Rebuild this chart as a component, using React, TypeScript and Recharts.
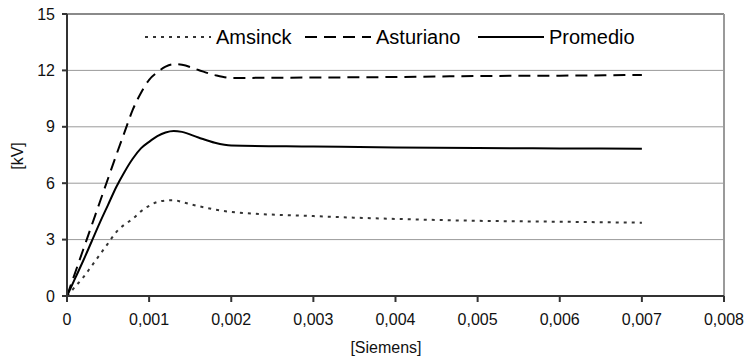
import { LineChart, Line, XAxis, YAxis, CartesianGrid, ReferenceLine } from 'recharts'

// conductancia [S]
const siemens = [
  0, 0.0001, 0.0002, 0.0003, 0.0004, 0.0005, 0.0006, 0.0007, 0.0008, 0.0009, 0.001, 0.0011, 0.0012, 0.0013,
  0.0014, 0.0016, 0.0018, 0.002, 0.003, 0.004, 0.005, 0.006, 0.007,
]
const amsinck = [
  0, 0.5, 1.0, 1.6, 2.2, 2.8, 3.4, 3.8, 4.1, 4.5, 4.8, 5.0, 5.08, 5.1, 5.0, 4.78, 4.6, 4.47, 4.25, 4.1, 4.0, 3.95, 3.9,
]
const asturiano = [
  0, 1.25, 2.5, 3.75, 5.0, 6.25, 7.5, 8.7, 9.9, 10.8, 11.5, 11.9, 12.2, 12.33, 12.3, 12.02, 11.75, 11.6, 11.62, 11.65,
  11.7, 11.72, 11.76,
]
const promedio = [
  0, 0.95, 1.9, 2.9, 3.9, 4.85, 5.8, 6.6, 7.3, 7.85, 8.2, 8.5, 8.7, 8.78, 8.73, 8.43, 8.15, 8.0, 7.95, 7.9, 7.87, 7.85,
  7.83,
]

const xTicks = [0, 0.001, 0.002, 0.003, 0.004, 0.005, 0.006, 0.007, 0.008]
const yTicks = [0, 3, 6, 9, 12, 15]

const data = siemens.map((s, i) => ({
  s,
  amsinck: amsinck[i],
  asturiano: asturiano[i],
  promedio: promedio[i],
}))

const FONT = '"Liberation Sans", Arial, sans-serif'

const series = [
  { key: 'amsinck', name: 'Amsinck', color: '#333', dash: '3 5', width: 160 },
  { key: 'asturiano', name: 'Asturiano', color: '#000', dash: '12 7', width: 173 },
  { key: 'promedio', name: 'Promedio', color: '#000', dash: undefined, width: 170 },
]

const fmtX = (v: number) => (v === 0 ? '0' : v.toFixed(3).replace('.', ','))

// leyenda dentro del área del gráfico, arriba
function ChartLegend() {
  return (
    <div
      style={{
        position: 'absolute',
        left: 145,
        top: 26,
        display: 'flex',
        alignItems: 'center',
        fontFamily: FONT,
        fontSize: 20,
        color: '#000',
        lineHeight: '22px',
      }}
    >
      {series.map((s) => (
        <div key={s.key} style={{ width: s.width, display: 'flex', alignItems: 'center' }}>
          <svg width={66} height={10} style={{ marginRight: 5 }}>
            <line x1={0} y1={5} x2={66} y2={5} stroke={s.color} strokeWidth={2} strokeDasharray={s.dash} />
          </svg>
          <span>{s.name}</span>
        </div>
      ))}
    </div>
  )
}

export default function App() {
  return (
    <div style={{ position: 'absolute', left: 0, top: 0, width: 756, height: 358, background: '#fff' }}>
      <LineChart width={756} height={358} data={data} margin={{ top: 14, right: 32, left: 0, bottom: 0 }}>
        <CartesianGrid horizontal vertical={false} stroke="#9a9a9a" strokeWidth={1} />
        <ReferenceLine y={15} stroke="#8a8a8a" strokeWidth={2} />
        <ReferenceLine x={0.008} stroke="#9a9a9a" strokeWidth={2} />
        <XAxis
          dataKey="s"
          type="number"
          domain={[0, 0.008]}
          ticks={xTicks}
          tickFormatter={fmtX}
          height={62}
          tickSize={6}
          tickMargin={12}
          stroke="#333"
          strokeWidth={2}
          tick={{ fontSize: 16, fill: '#111', fontFamily: FONT }}
          label={{
            content: () => (
              <text x={386} y={347} textAnchor="middle" dominantBaseline="central" fontSize={16} fontFamily={FONT} fill="#111">
                [Siemens]
              </text>
            ),
          }}
        />
        <YAxis
          type="number"
          domain={[0, 15]}
          ticks={yTicks}
          width={67}
          tickSize={5}
          tickMargin={7}
          stroke="#333"
          strokeWidth={2}
          tick={{ fontSize: 16, fill: '#111', fontFamily: FONT }}
          label={{
            content: () => (
              <text
                x={17}
                y={156}
                transform="rotate(-90 17 156)"
                textAnchor="middle"
                dominantBaseline="central"
                fontSize={16}
                fontFamily={FONT}
                fill="#111"
              >
                [kV]
              </text>
            ),
          }}
        />
        {series.map((s) => (
          <Line
            key={s.key}
            dataKey={s.key}
            name={s.name}
            type="monotone"
            stroke={s.color}
            strokeWidth={2}
            strokeDasharray={s.dash}
            dot={false}
            isAnimationActive={false}
          />
        ))}
      </LineChart>
      <ChartLegend />
    </div>
  )
}
